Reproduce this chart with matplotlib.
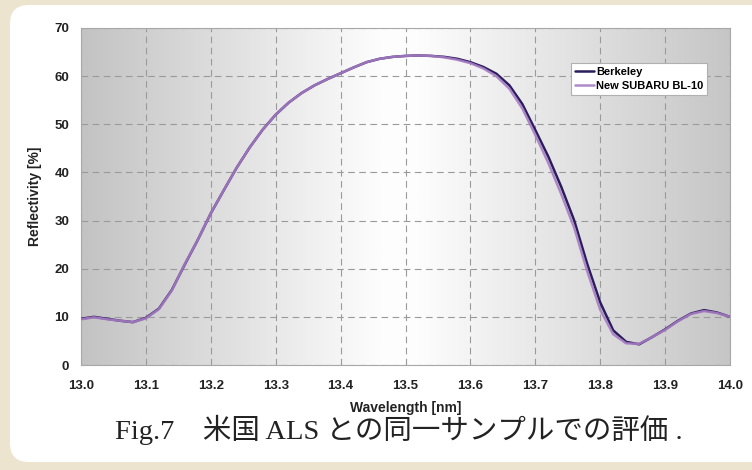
import numpy as np
import matplotlib
matplotlib.use("Agg")
import matplotlib.pyplot as plt
from matplotlib.patches import FancyBboxPatch
from matplotlib.colors import LinearSegmentedColormap

# ---- data ----
wavelength = [13.00, 13.02, 13.04, 13.06, 13.08, 13.10, 13.12, 13.14, 13.16, 13.18,
              13.20, 13.22, 13.24, 13.26, 13.28, 13.30, 13.32, 13.34, 13.36, 13.38,
              13.40, 13.42, 13.44, 13.46, 13.48, 13.50, 13.52, 13.54, 13.56, 13.58,
              13.60, 13.62, 13.64, 13.66, 13.68, 13.70, 13.72, 13.74, 13.76, 13.78,
              13.80, 13.82, 13.84, 13.86, 13.88, 13.90, 13.92, 13.94, 13.96, 13.98,
              14.00]
new_subaru = [9.5, 9.9, 9.5, 9.2, 8.9, 9.7, 11.6, 15.5, 21.0, 26.0,
              31.5, 36.3, 41.0, 45.2, 48.9, 52.0, 54.5, 56.5, 58.1, 59.4,
              60.6, 61.8, 62.9, 63.6, 64.0, 64.2, 64.3, 64.2, 63.9, 63.4,
              62.7, 61.6, 60.0, 57.4, 53.3, 47.8, 42.0, 35.5, 28.5, 19.5,
              11.5, 6.4, 4.5, 4.4, 5.8, 7.3, 9.1, 10.6, 11.2, 10.8,
              10.0]
berkeley = [9.6, 10.0, 9.6, 9.2, 8.9, 9.8, 11.7, 15.6, 20.9, 26.0,
            31.5, 36.3, 41.0, 45.2, 48.9, 52.0, 54.5, 56.5, 58.1, 59.4,
            60.6, 61.8, 62.9, 63.6, 64.0, 64.2, 64.3, 64.2, 64.0, 63.6,
            62.9, 61.9, 60.5, 58.1, 54.2, 48.8, 43.3, 37.0, 30.0, 21.0,
            13.0, 7.2, 4.8, 4.3, 5.8, 7.4, 9.2, 10.7, 11.4, 10.9,
            10.0]
x_ticks = [13.0, 13.1, 13.2, 13.3, 13.4, 13.5, 13.6, 13.7, 13.8, 13.9, 14.0]
y_ticks = [0, 10, 20, 30, 40, 50, 60, 70]
series_names = ["Berkeley", "New SUBARU BL-10"]
caption = "Fig.7\u3000米国 ALS との同一サンプルでの評価 ."

W, H = 752, 470
fig = plt.figure(figsize=(W / 100, H / 100), dpi=100)
fig.patch.set_facecolor("#ece4cf")

# white rounded card
card = FancyBboxPatch((10 / W, 8 / H), (W + 20) / W, (H - 13) / H,
                      boxstyle="round,pad=0,rounding_size=0.025",
                      transform=fig.transFigure, facecolor="white",
                      edgecolor="none", zorder=-10, mutation_aspect=W / H)
fig.patches.append(card)

ax = fig.add_axes([81 / W, 1 - 365 / H, (730 - 81) / W, (365 - 28) / H])
ax.set_zorder(1)
ax.set_xlim(13.0, 14.0)
ax.set_ylim(0, 70)

# horizontal gradient background
cmap = LinearSegmentedColormap.from_list(
    "bg", [(0.0, "#c3c3c3"), (0.46, "#fdfdfd"), (0.52, "#fdfdfd"), (1.0, "#c6c6c6")])
grad = np.linspace(0, 1, 512).reshape(1, -1)
ax.imshow(grad, cmap=cmap, aspect="auto", extent=[0, 1, 0, 1],
          transform=ax.transAxes, zorder=0, interpolation="bilinear")

ax.grid(True, color="#9a9a9a", linestyle=(0, (6, 4)), linewidth=0.8, zorder=1)

ax.plot(wavelength, berkeley, color="#2a1d5c", lw=1.8, label=series_names[0],
        zorder=3, solid_capstyle="round")
ax.plot(wavelength, new_subaru, color="#a77cc4", lw=1.8, label=series_names[1],
        zorder=4, alpha=0.9, solid_capstyle="round")

ax.set_xticks(x_ticks)
ax.set_xticklabels([f"{v:.1f}" for v in x_ticks])
ax.set_yticks(y_ticks)
for lab in ax.get_xticklabels() + ax.get_yticklabels():
    lab.set_fontfamily("Liberation Sans")
    lab.set_fontweight("bold")
    lab.set_fontsize(9.5)
    lab.set_color("#222222")
ax.tick_params(axis="both", length=0)
ax.tick_params(axis="x", pad=11)
ax.tick_params(axis="y", pad=8.5)

for s in ax.spines.values():
    s.set_color("#a8a8a8")
    s.set_linewidth(0.8)

ax.set_xlabel("Wavelength [nm]", fontfamily="Liberation Sans", fontweight="bold",
              fontsize=10, labelpad=6, color="#222222")
ax.set_ylabel("Reflectivity [%]", fontfamily="Liberation Sans", fontweight="bold",
              fontsize=10, labelpad=9, color="#222222")

leg = ax.legend(loc="upper left", bbox_to_anchor=((571 - 81) / 649, 1 - (63 - 28) / 337),
                frameon=True, fancybox=False,
                prop={"family": "Liberation Sans", "weight": "bold", "size": 8},
                handlelength=1.7, handletextpad=0.2, borderpad=0.35,
                labelspacing=0.4, borderaxespad=0)
leg.get_frame().set_edgecolor("#b0b0b0")
leg.get_frame().set_linewidth(0.8)
leg.get_frame().set_facecolor("white")
leg.get_frame().set_alpha(1)

fig.text(399 / W, 1 - 430 / H, caption, ha="center", va="center",
         fontsize=20.5, family=["Liberation Serif", "Noto Sans CJK JP"], color="#222222")

fig.savefig("out.png", dpi=100, facecolor=fig.get_facecolor())
